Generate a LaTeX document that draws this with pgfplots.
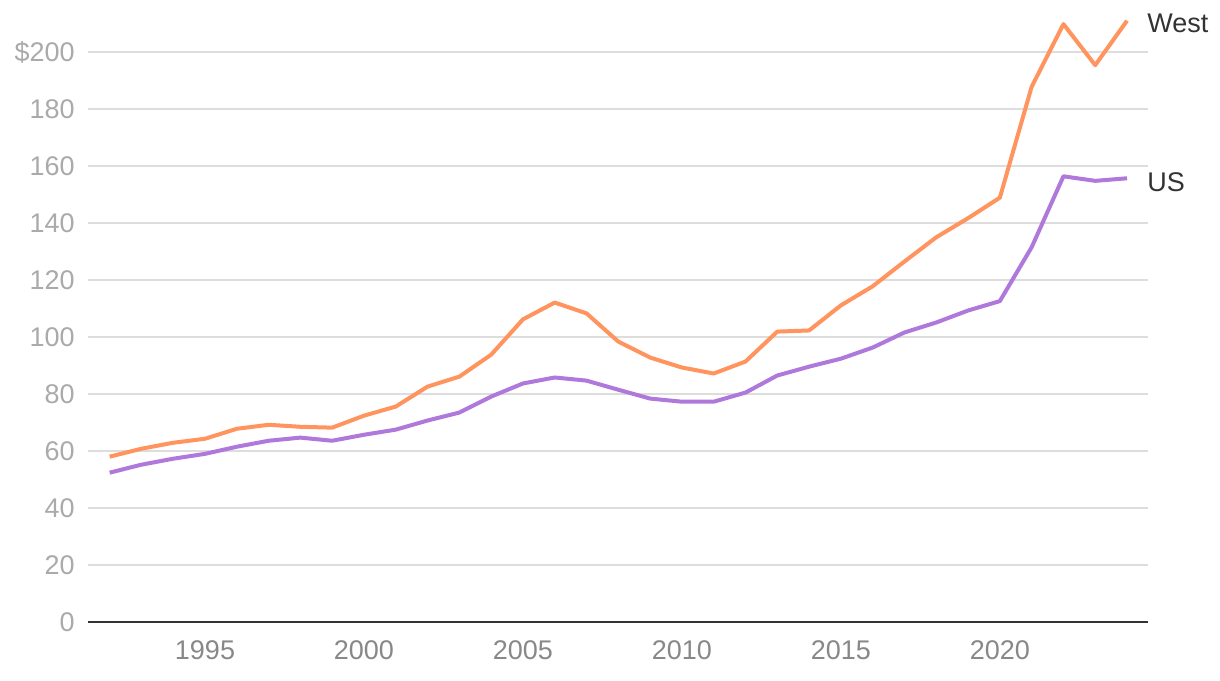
\documentclass[border=0pt]{standalone}
\usepackage{pgfplots}
\pgfplotsset{compat=1.18}
\usepackage{fontspec}
\setmainfont{Liberation Sans}
\definecolor{westc}{HTML}{FF945E}
\definecolor{usc}{HTML}{AF78DB}
\definecolor{gridc}{HTML}{DDDDDD}
\definecolor{ylab}{HTML}{AAAAAA}
\definecolor{xlab}{HTML}{888888}
\definecolor{txt}{HTML}{333333}
\begin{document}
\begin{tikzpicture}
\path[use as bounding box] (-44pt,-29pt) rectangle (566pt,311pt);
\begin{axis}[
  at={(0,0)}, anchor=south west,
  scale only axis,
  width=530pt, height=303.5pt,
  xmin=1991.32, xmax=2024.66,
  ymin=0, ymax=213,
  axis x line*=bottom,
  axis y line*=left,
  x axis line style={draw=txt, line width=1pt, -},
  y axis line style={draw=none},
  xtick={1995,2000,2005,2010,2015,2020},
  xticklabels={1995,2000,2005,2010,2015,2020},
  ytick={0,20,40,60,80,100,120,140,160,180,200},
  yticklabels={0,20,40,60,80,100,120,140,160,180,\$200},
  major tick length=0pt,
  ymajorgrids,
  grid style={draw=gridc, line width=0.75pt},
  xticklabel style={font=\fontsize{13.5}{15}\selectfont, text=xlab, inner sep=0pt, yshift=-9pt},
  yticklabel style={font=\fontsize{13.5}{15}\selectfont, text=ylab, inner sep=0pt, xshift=-6.5pt},
  clip=false,
]
\addplot[westc, line width=2pt, line join=round] coordinates {
(1992,58.0) (1993,60.8) (1994,62.9) (1995,64.3) (1996,67.8) (1997,69.2)
(1998,68.5) (1999,68.2) (2000,72.4) (2001,75.6) (2002,82.6) (2003,86.1)
(2004,93.8) (2005,106.2) (2006,112.1) (2007,108.3) (2008,98.4) (2009,92.8)
(2010,89.3) (2011,87.2) (2012,91.4) (2013,101.9) (2014,102.3) (2015,111.1)
(2016,117.8) (2017,126.5) (2018,135.0) (2019,141.7) (2020,148.9) (2021,187.8)
(2022,209.8) (2023,195.4) (2024,211.0)
};
\addplot[usc, line width=2pt, line join=round] coordinates {
(1992,52.4) (1993,55.2) (1994,57.3) (1995,59.0) (1996,61.5) (1997,63.6)
(1998,64.7) (1999,63.6) (2000,65.7) (2001,67.5) (2002,70.7) (2003,73.5)
(2004,79.1) (2005,83.7) (2006,85.8) (2007,84.7) (2008,81.5) (2009,78.4)
(2010,77.3) (2011,77.3) (2012,80.5) (2013,86.5) (2014,89.6) (2015,92.4)
(2016,96.3) (2017,101.6) (2018,105.1) (2019,109.3) (2020,112.6) (2021,131.5)
(2022,156.4) (2023,154.8) (2024,155.7)
};
\node[anchor=west, text=txt, font=\fontsize{13.5}{16}\selectfont, inner sep=0pt, xshift=10pt] at (axis cs:2024,210) {West};
\node[anchor=west, text=txt, font=\fontsize{13.5}{16}\selectfont, inner sep=0pt, xshift=10pt] at (axis cs:2024,154.5) {US};
\end{axis}
\end{tikzpicture}
\end{document}
